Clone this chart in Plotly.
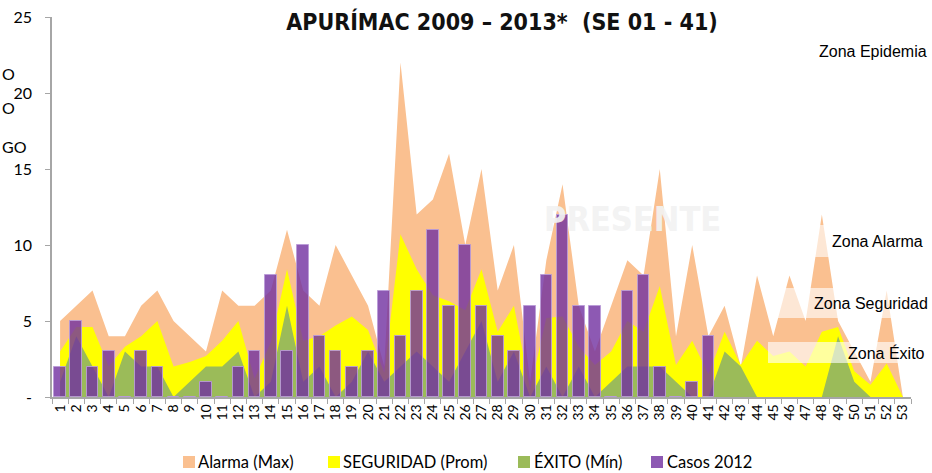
import plotly.graph_objects as go

# ---------------- data ----------------
weeks = [str(i) for i in range(1, 54)]

alarma_max = [5, 6, 7, 4, 4, 6, 7, 5, 4, 3,
              7, 6, 6, 7, 11, 7, 6, 10, 8, 6,
              2, 22, 12, 13, 16, 10, 15, 7, 10, 1,
              9, 14, 6, 3, 6, 9, 8, 15, 4, 10,
              4, 6, 2, 8, 4, 8, 5, 12, 5, 3,
              1, 7, 0]

seguridad_prom = [3.0, 4.6, 4.6, 2.0, 3.3, 4.0, 5.0, 2.0, 2.3, 2.7,
                  3.7, 5.0, 1.2, 3.6, 8.4, 3.7, 4.0, 4.7, 5.3, 4.4,
                  1.6, 10.7, 8.4, 6.7, 6.3, 5.7, 8.4, 4.3, 6.0, 0.5,
                  5.2, 5.3, 3.3, 2.1, 3.0, 5.0, 4.3, 7.3, 2.1, 3.7,
                  1.5, 4.3, 2.1, 3.7, 2.7, 3.0, 2.0, 4.3, 4.6, 1.7,
                  0.8, 2.2, 0]

exito_min = [1, 4, 2, 0, 3, 2, 2, 0, 1, 2,
             2, 3, 0, 1, 6, 1, 2, 0, 1, 3,
             1, 2, 3, 2, 1, 3, 5, 1, 3, 0,
             2, 0, 2, 0, 1, 2, 2, 2, 1, 0,
             0, 3, 2, 0, 0, 0, 0, 0, 4, 1,
             0, 0, 0]

casos_2012 = [2, 5, 2, 3, 0, 3, 2, 0, 0, 1,
              0, 2, 3, 8, 3, 10, 4, 3, 2, 3,
              7, 4, 7, 11, 6, 10, 6, 4, 3, 6,
              8, 12, 6, 6, 0, 7, 8, 2, 0, 1,
              4]

title_text = "APURÍMAC 2009 – 2013*  (SE 01 - 41)"
y_tickvals = [0, 5, 10, 15, 20, 25]
y_ticktext = ["-", "5", "10", "15", "20", "25"]
legend_labels = ["Alarma (Max)", "SEGURIDAD (Prom)", "ÉXITO (Mín)", "Casos 2012"]
zone_labels = ["Zona Epidemia", "Zona Alarma", "Zona Seguridad", "Zona Éxito"]
watermark = "PRESENTE"
side_texts = ["O", "O", "GO"]

# ---------------- styling ----------------
C_ALARMA = "#FAC090"
C_SEG = "#FFFF00"
C_EXITO = "#9BBB59"
C_CASOS = "rgba(112,48,160,0.8)"
AXIS_GRAY = "#A6A6A6"
COND = "DejaVu Sans Condensed, Liberation Sans Narrow, Arial Narrow, sans-serif"

W, H = 932, 473
ML, MR, MT, MB = 52, 21, 17, 76
PW = W - ML - MR
PH = H - MT - MB


def px_x(px):
    return (px - ML) / PW


def px_y(py):
    return (H - MB - py) / PH


fig = go.Figure()

for vals, col in [(alarma_max, C_ALARMA), (seguridad_prom, C_SEG), (exito_min, C_EXITO)]:
    fig.add_trace(go.Scatter(x=weeks, y=vals, mode="none", fill="tozeroy",
                             fillcolor=col, showlegend=False, hoverinfo="skip"))

fig.add_trace(go.Bar(x=weeks[:len(casos_2012)], y=casos_2012, yaxis="y2",
                     width=0.72,
                     marker=dict(color=C_CASOS,
                                 line=dict(color="rgba(185,155,215,0.9)", width=1)),
                     showlegend=False, hoverinfo="skip"))

fig.update_layout(
    width=W, height=H,
    margin=dict(l=ML, r=MR, t=MT, b=MB, autoexpand=False),
    paper_bgcolor="white", plot_bgcolor="white",
    showlegend=False,
    bargap=0,
    title=dict(text="<b>" + title_text + "</b>",
               font=dict(family=COND, size=23, color="#111111"),
               x=502 / W, xanchor="center", xref="container",
               y=1 - 22 / H, yanchor="middle", yref="container"),
    xaxis=dict(type="category", categoryorder="array", categoryarray=weeks,
               range=[-0.5, len(weeks) - 0.5],
               tickmode="linear", tick0=0, dtick=1,
               tickson="boundaries", ticks="outside", ticklen=5,
               tickcolor=AXIS_GRAY, tickwidth=1,
               showline=True, linecolor=AXIS_GRAY, linewidth=1.5,
               tickangle=-90, showgrid=False, zeroline=False,
               tickfont=dict(family="Lato, sans-serif", size=14, color="#000000")),
    yaxis=dict(range=[0, 25], tickvals=y_tickvals, ticktext=y_ticktext,
               ticks="outside", ticklen=5, tickcolor=AXIS_GRAY,
               showline=True, linecolor=AXIS_GRAY, linewidth=1.5,
               showgrid=False, zeroline=False, ticklabelstandoff=10,
               tickfont=dict(family="Lato, sans-serif", size=16, color="#000000")),
    yaxis2=dict(range=[0, 25], overlaying="y", visible=False),
)

# translucent boxes behind zone labels
boxes = [(815, 932, 225, 257), (778, 932, 288, 318), (768, 932, 342, 363)]
for x0, x1, y0, y1 in boxes:
    fig.add_shape(type="rect", xref="paper", yref="paper",
                  x0=px_x(x0), x1=px_x(x1), y0=px_y(y1), y1=px_y(y0),
                  fillcolor="rgba(255,255,255,0.62)", line=dict(width=0), layer="above")

# zone labels (right-aligned)
zone_pos = [(929, 52), (925, 242), (930, 303), (927, 353)]
for txt, (xp, yp) in zip(zone_labels, zone_pos):
    fig.add_annotation(text=txt, xref="paper", yref="paper", x=px_x(xp), y=px_y(yp),
                       xanchor="right", yanchor="middle", showarrow=False,
                       font=dict(family="Liberation Sans, Arial, sans-serif", size=16, color="#000000"))

# watermark
fig.add_annotation(text="<b>" + watermark + "</b>", xref="paper", yref="paper",
                   x=px_x(632), y=px_y(219), xanchor="center", yanchor="middle",
                   showarrow=False, opacity=0.92,
                   font=dict(family=COND, size=34, color="#F2F2F2"))

# side texts at the far left
for txt, (xp, yp) in zip(side_texts, [(0, 73), (0, 108), (0, 147)]):
    fig.add_annotation(text=txt, xref="paper", yref="paper", x=px_x(xp), y=px_y(yp),
                       xanchor="left", yanchor="middle", showarrow=False,
                       font=dict(family="Lato, sans-serif", size=16, color="#000000"))

# manual legend
leg_colors = [C_ALARMA, C_SEG, C_EXITO, "rgba(112,48,160,0.8)"]
leg_sq_x = [183, 328, 518, 651]
leg_txt_x = [196, 341, 532, 665]
for col, sx, tx, lab in zip(leg_colors, leg_sq_x, leg_txt_x, legend_labels):
    fig.add_shape(type="rect", xref="paper", yref="paper",
                  x0=px_x(sx), x1=px_x(sx + 12), y0=px_y(468), y1=px_y(456),
                  fillcolor=col, line=dict(width=0), layer="above")
    fig.add_annotation(text=lab, xref="paper", yref="paper", x=px_x(tx), y=px_y(462),
                       xanchor="left", yanchor="middle", showarrow=False,
                       font=dict(family="Lato, sans-serif", size=16.5, color="#000000"))

fig.write_html("out.html",
               config={"displayModeBar": False},
               post_script="document.body.style.margin='0';document.body.style.overflow='hidden';")
